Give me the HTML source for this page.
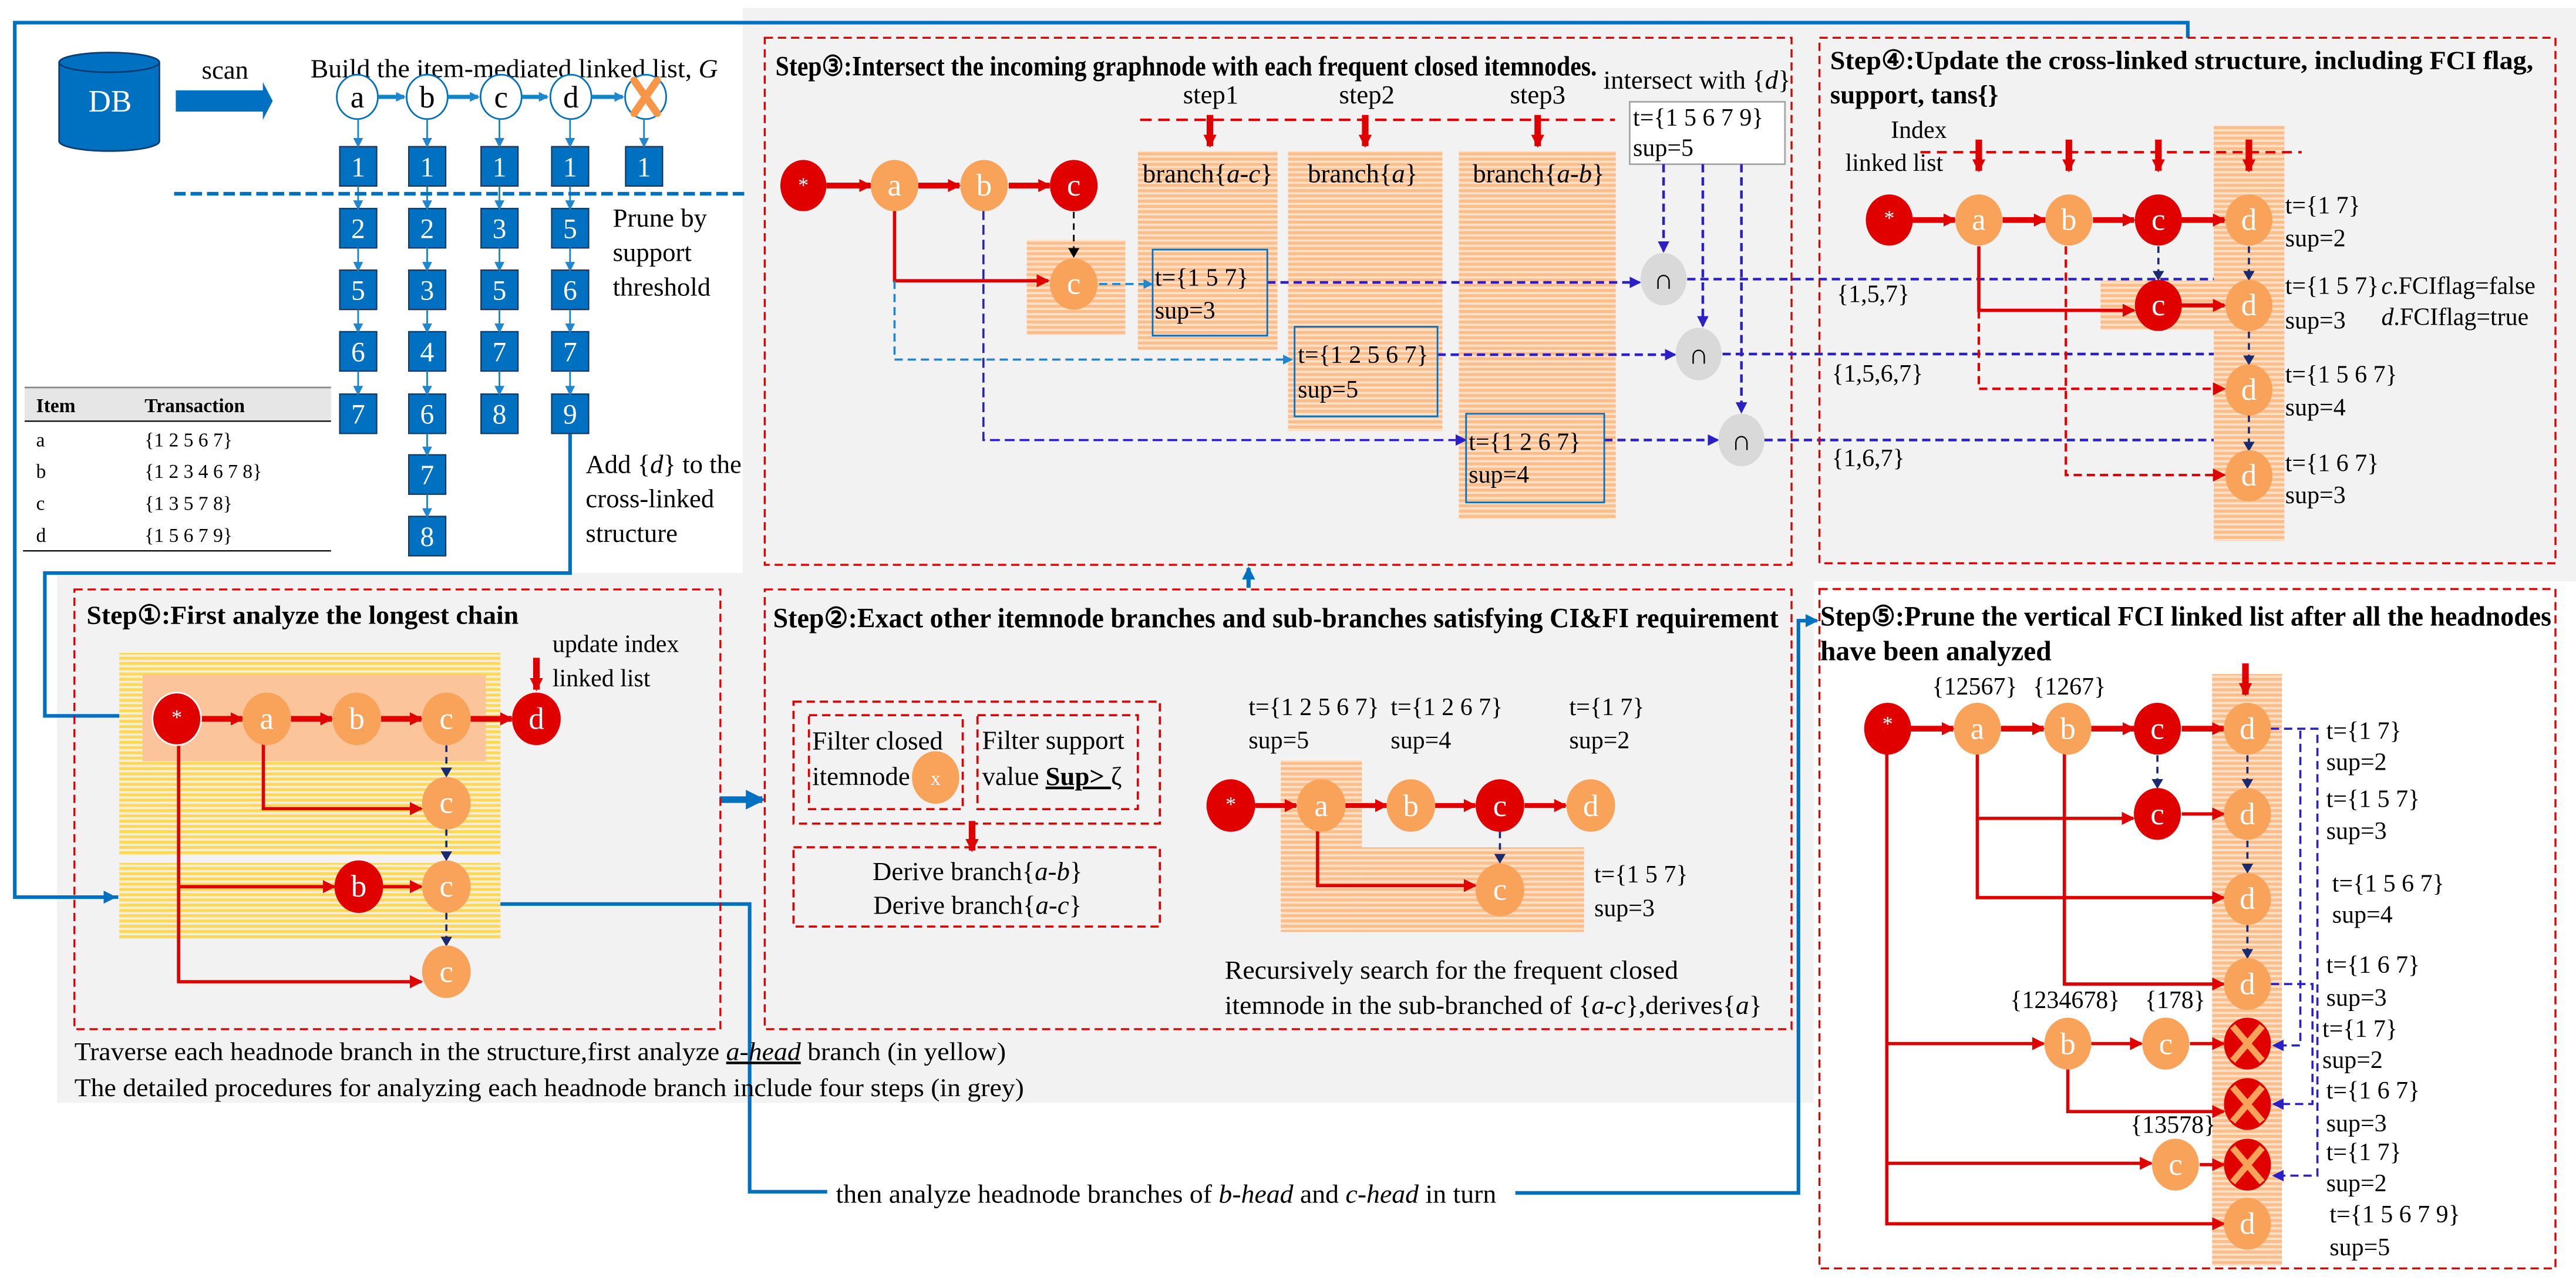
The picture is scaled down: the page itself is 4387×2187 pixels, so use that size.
<!DOCTYPE html>
<html><head><meta charset="utf-8"><style>
html,body{margin:0;padding:0;background:#fff;}
svg{display:block;}
svg text, svg tspan{font-family:"Liberation Serif","DejaVu Serif",serif;}
</style></head><body>
<svg xmlns="http://www.w3.org/2000/svg" width="4387" height="2187" viewBox="0 0 1568 782" preserveAspectRatio="none" font-family="Liberation Serif, serif">
<defs>
<pattern id="os" width="4" height="3.2" patternUnits="userSpaceOnUse"><rect width="4" height="3.2" fill="#fde0c8"/><rect width="4" height="1.8" fill="#fbbd8a"/></pattern>
<pattern id="ys" width="4" height="3.2" patternUnits="userSpaceOnUse"><rect width="4" height="3.2" fill="#f4efd8"/><rect width="4" height="1.8" fill="#ffd85a"/></pattern>
<marker id="ar" markerWidth="8" markerHeight="8" refX="7" refY="4" orient="auto" markerUnits="userSpaceOnUse"><path d="M0,0 L8,4 L0,8 z" fill="#e00000"/></marker>
<marker id="ab" markerWidth="8" markerHeight="8" refX="7" refY="4" orient="auto" markerUnits="userSpaceOnUse"><path d="M0,0 L8,4 L0,8 z" fill="#0070c0"/></marker>
<marker id="abs" markerWidth="6" markerHeight="6" refX="5" refY="3" orient="auto" markerUnits="userSpaceOnUse"><path d="M0,0 L6,3 L0,6 z" fill="#1f86d0"/></marker>
<marker id="ap" markerWidth="7" markerHeight="7" refX="6" refY="3.5" orient="auto" markerUnits="userSpaceOnUse"><path d="M0,0 L7,3.5 L0,7 z" fill="#2b1fc8"/></marker>
<marker id="an" markerWidth="6" markerHeight="7" refX="5" refY="3.5" orient="auto" markerUnits="userSpaceOnUse"><path d="M0,0 L6,3.5 L0,7 z" fill="#1a2a70"/></marker>
<marker id="ak" markerWidth="6" markerHeight="7" refX="5" refY="3.5" orient="auto" markerUnits="userSpaceOnUse"><path d="M0,0 L6,3.5 L0,7 z" fill="#000"/></marker>
<marker id="abb" markerWidth="12" markerHeight="12" refX="10" refY="6" orient="auto" markerUnits="userSpaceOnUse"><path d="M0,0 L12,6 L0,12 z" fill="#0070c0"/></marker>
</defs>

<rect x="452" y="5" width="1116" height="349" fill="#f2f2f2"/>
<rect x="34.7" y="349" width="1069.3" height="322.6" fill="#f2f2f2"/>

<path d="M72,546.4 H9 V13.8 H1331.7 V23" fill="none" stroke="#0070c0" stroke-width="2.2"/>
<path d="M9,546.4 H70" fill="none" stroke="#0070c0" stroke-width="2.2" marker-end="url(#ab)"/>
<path d="M347,264 V349 H27.3 V436 H84" fill="none" stroke="#0070c0" stroke-width="2.2" marker-end="url(#ab)"/>
<path d="M303.7,550.6 H456.3 V725.8 H503.5" fill="none" stroke="#0070c0" stroke-width="2.2"/>
<path d="M922.4,726.5 H1094.7 V378 H1106" fill="none" stroke="#0070c0" stroke-width="2.2" marker-end="url(#ab)"/>
<path d="M438,487 H464" fill="none" stroke="#0070c0" stroke-width="4" marker-end="url(#abb)"/>
<path d="M760,358 V346" fill="none" stroke="#0070c0" stroke-width="2.5" marker-end="url(#ab)"/>

<path d="M36,38 V86 A30.5,6 0 0 0 97,86 V38" fill="#0070c0" stroke="#0a3d73" stroke-width="1"/>
<ellipse cx="66.5" cy="38" rx="30.5" ry="6" fill="#0070c0" stroke="#0a3d73" stroke-width="1"/>
<text x="67" y="68" font-size="19" fill="#fff" text-anchor="middle">DB</text>
<path d="M107,55 H160 V50 L166,61.5 L160,73 V68 H107 z" fill="#0070c0"/>
<text x="137" y="48" font-size="16" text-anchor="middle">scan</text>
<text x="189" y="47" font-size="16" textLength="248" lengthAdjust="spacingAndGlyphs">Build the item-mediated linked list, <tspan font-style="italic">G</tspan></text>
<g stroke="#0070c0" stroke-width="1" fill="#fff">
<ellipse cx="217.5" cy="59" rx="12.5" ry="13.5"/><ellipse cx="260" cy="59" rx="12.5" ry="13.5"/><ellipse cx="305" cy="59" rx="12.5" ry="13.5"/><ellipse cx="347.5" cy="59" rx="12.5" ry="13.5"/><ellipse cx="393" cy="59" rx="12.5" ry="13.5"/>
</g>
<g font-size="19" text-anchor="middle"><text x="217.5" y="65.5">a</text><text x="260" y="65.5">b</text><text x="305" y="65.5">c</text><text x="347.5" y="65.5">d</text></g>
<g stroke="#f79646" stroke-width="4.5" stroke-linecap="round"><path d="M386,49 L400,69 M400,49 L386,69"/></g>
<g stroke="#0f86c8" stroke-width="2.5" fill="none" marker-end="url(#abs)">
<path d="M230,59 H246"/><path d="M272.5,59 H291"/><path d="M317.5,59 H333"/><path d="M360,59 H379"/>
</g>
<g fill="#0070c0" stroke="#17375e" stroke-width="0.8">
<rect x="206.8" y="89.3" width="22.5" height="24"/><rect x="206.8" y="127" width="22.5" height="24"/><rect x="206.8" y="164.5" width="22.5" height="24"/><rect x="206.8" y="202" width="22.5" height="24"/><rect x="206.8" y="240" width="22.5" height="24"/>
<rect x="248.8" y="89.3" width="22.5" height="24"/><rect x="248.8" y="127" width="22.5" height="24"/><rect x="248.8" y="164.5" width="22.5" height="24"/><rect x="248.8" y="202" width="22.5" height="24"/><rect x="248.8" y="240" width="22.5" height="24"/><rect x="248.8" y="277" width="22.5" height="24"/><rect x="248.8" y="314.5" width="22.5" height="24"/>
<rect x="292.8" y="89.3" width="22.5" height="24"/><rect x="292.8" y="127" width="22.5" height="24"/><rect x="292.8" y="164.5" width="22.5" height="24"/><rect x="292.8" y="202" width="22.5" height="24"/><rect x="292.8" y="240" width="22.5" height="24"/>
<rect x="335.8" y="89.3" width="22.5" height="24"/><rect x="335.8" y="127" width="22.5" height="24"/><rect x="335.8" y="164.5" width="22.5" height="24"/><rect x="335.8" y="202" width="22.5" height="24"/><rect x="335.8" y="240" width="22.5" height="24"/>
<rect x="380.8" y="89.3" width="22.5" height="24"/>
</g>
<g font-size="17" fill="#fff" text-anchor="middle">
<text x="218" y="107.5">1</text><text x="218" y="145">2</text><text x="218" y="182.5">5</text><text x="218" y="220">6</text><text x="218" y="258">7</text>
<text x="260" y="107.5">1</text><text x="260" y="145">2</text><text x="260" y="182.5">3</text><text x="260" y="220">4</text><text x="260" y="258">6</text><text x="260" y="295">7</text><text x="260" y="332.5">8</text>
<text x="304" y="107.5">1</text><text x="304" y="145">3</text><text x="304" y="182.5">5</text><text x="304" y="220">7</text><text x="304" y="258">8</text>
<text x="347" y="107.5">1</text><text x="347" y="145">5</text><text x="347" y="182.5">6</text><text x="347" y="220">7</text><text x="347" y="258">9</text>
<text x="392" y="107.5">1</text>
</g>
<g stroke="#0f86c8" stroke-width="1" fill="none" marker-end="url(#abs)">
<path d="M218,72.5 V89"/><path d="M260,72.5 V89"/><path d="M304,72.5 V89"/><path d="M347,72.5 V89"/><path d="M392,72.5 V89"/>
<path d="M218,113.3 V127"/><path d="M218,150.8 V164.5"/><path d="M218,188.5 V202"/><path d="M218,226 V240"/>
<path d="M260,113.3 V127"/><path d="M260,150.8 V164.5"/><path d="M260,188.5 V202"/><path d="M260,226 V240"/><path d="M260,264 V277"/><path d="M260,301 V314.5"/>
<path d="M304,113.3 V127"/><path d="M304,150.8 V164.5"/><path d="M304,188.5 V202"/><path d="M304,226 V240"/>
<path d="M347,113.3 V127"/><path d="M347,150.8 V164.5"/><path d="M347,188.5 V202"/><path d="M347,226 V240"/>
</g>
<path d="M106,118 H456" stroke="#0070c0" stroke-width="2.2" stroke-dasharray="7,3" fill="none"/>
<g font-size="16"><text x="373" y="138">Prune by</text><text x="373" y="159">support</text><text x="373" y="180">threshold</text>
<text x="356.5" y="288">Add {<tspan font-style="italic">d</tspan>} to the</text><text x="356.5" y="309">cross-linked</text><text x="356.5" y="330">structure</text></g>
<rect x="15" y="236" width="186.5" height="20" fill="#e6e6e6"/>
<path d="M15,236 H201.5" stroke="#888" stroke-width="1"/>
<path d="M15,256.5 H201.5 M14,335.5 H201.5" stroke="#000" stroke-width="0.8"/>
<g font-size="12"><text x="22" y="251" font-weight="bold">Item</text><text x="88" y="251" font-weight="bold">Transaction</text>
<text x="22" y="272">a</text><text x="88" y="272">{1 2 5 6 7}</text>
<text x="22" y="291">b</text><text x="88" y="291">{1 2 3 4 6 7 8}</text>
<text x="22" y="310.5">c</text><text x="88" y="310.5">{1 3 5 7 8}</text>
<text x="22" y="330">d</text><text x="88" y="330">{1 5 6 7 9}</text></g>

<rect x="465.5" y="23" width="625" height="321" fill="none" stroke="#e00000" stroke-width="1.2" stroke-dasharray="5,3"/>
<text x="472" y="46" font-size="17" font-weight="bold" textLength="500" lengthAdjust="spacingAndGlyphs">Step③:Intersect the incoming graphnode with each frequent closed itemnodes.</text>
<rect x="692.6" y="92" width="85" height="121" fill="url(#os)"/>
<rect x="784" y="92" width="94" height="170.5" fill="url(#os)"/>
<rect x="888" y="92" width="95.5" height="224" fill="url(#os)"/>
<rect x="625" y="146" width="60" height="58" fill="url(#os)"/>
<g font-size="16" text-anchor="middle"><text x="737" y="63">step1</text><text x="832" y="63">step2</text><text x="936" y="63">step3</text></g>
<path d="M694,73 H983" stroke="#e00000" stroke-width="1.5" stroke-dasharray="7,4"/>
<g stroke="#e00000" stroke-width="4" marker-end="url(#ar)"><path d="M736.5,70 V89"/><path d="M831,70 V89"/><path d="M936,70 V89"/></g>
<g font-size="16"><text x="695.5" y="111">branch{<tspan font-style="italic">a-c</tspan>}</text><text x="796" y="111">branch{<tspan font-style="italic">a</tspan>}</text><text x="896.5" y="111">branch{<tspan font-style="italic">a-b</tspan>}</text></g>
<text x="976" y="54" font-size="16">intersect with {<tspan font-style="italic">d</tspan>}</text>
<rect x="992" y="62" width="94.5" height="38" fill="#fff" stroke="#a6a6a6" stroke-width="1"/>
<g font-size="15"><text x="994" y="76.5">t={1 5 6 7 9}</text><text x="994" y="95">sup=5</text></g>
<g stroke="#e00000" stroke-width="3.5" fill="none" marker-end="url(#ar)"><path d="M503,113 H530"/><path d="M559,113 H584"/><path d="M614,113 H639"/></g>
<path d="M544.5,128 V171 H638" stroke="#e00000" stroke-width="2" fill="none" marker-end="url(#ar)"/>
<path d="M653.6,129 V156" stroke="#000" stroke-width="1" stroke-dasharray="4,3" fill="none" marker-end="url(#ak)"/>
<path d="M544.5,171 V219 H786" stroke="#1f86d0" stroke-width="1.3" stroke-dasharray="5,3" fill="none" marker-end="url(#abs)"/>
<path d="M669,173 H701" stroke="#1f86d0" stroke-width="1.3" stroke-dasharray="5,3" fill="none" marker-end="url(#abs)"/>
<path d="M598.6,128 V268 H892" stroke="#2b1fc8" stroke-width="1.3" stroke-dasharray="6,3" fill="none" marker-end="url(#ap)"/>
<g stroke="#2b1fc8" stroke-width="1.6" stroke-dasharray="5,3" fill="none" marker-end="url(#ap)">
<path d="M771.4,172 H998"/><path d="M875,216 H1019.5"/><path d="M976.5,268 H1045.5"/>
<path d="M1012.6,100 V153"/><path d="M1036.5,100 V198.5"/><path d="M1060,100 V251"/>
<path d="M1027,170 H1358 V176"/><path d="M1048.5,215.6 H1363 V224"/><path d="M1074,268 H1363 V275"/>
</g>
<rect x="701.6" y="152" width="69.8" height="52.4" fill="none" stroke="#0070c0" stroke-width="1"/>
<rect x="788" y="199" width="87" height="54.6" fill="none" stroke="#0070c0" stroke-width="1"/>
<rect x="892.4" y="252" width="84.1" height="54" fill="none" stroke="#0070c0" stroke-width="1"/>
<g font-size="15"><text x="703" y="174">t={1 5 7}</text><text x="703" y="194">sup=3</text>
<text x="790" y="221">t={1 2 5 6 7}</text><text x="790" y="242">sup=5</text>
<text x="894" y="274">t={1 2 6 7}</text><text x="894" y="294">sup=4</text></g>
<ellipse cx="489" cy="113" rx="14" ry="15.6" fill="#e00000"/>
<ellipse cx="544.5" cy="113" rx="14.5" ry="15.6" fill="#f9a35a"/>
<ellipse cx="599" cy="113" rx="14.5" ry="15.6" fill="#f9a35a"/>
<ellipse cx="653.6" cy="113" rx="14.5" ry="15.6" fill="#e00000"/>
<ellipse cx="653.6" cy="173" rx="14.5" ry="15.6" fill="#f9a35a"/>
<g font-size="19" fill="#fff" text-anchor="middle"><text x="489" y="117" font-size="13">*</text><text x="544.5" y="119">a</text><text x="599" y="119">b</text><text x="653.6" y="119">c</text><text x="653.6" y="179">c</text></g>
<g fill="#d9d9d9"><ellipse cx="1012.6" cy="170" rx="14" ry="16"/><ellipse cx="1034" cy="215.6" rx="14" ry="16"/><ellipse cx="1060" cy="268" rx="14" ry="16"/></g>
<g font-size="17" text-anchor="middle"><text x="1012.6" y="176">∩</text><text x="1034" y="221.6">∩</text><text x="1060" y="274">∩</text></g>

<rect x="1107.5" y="23" width="448" height="320" fill="none" stroke="#e00000" stroke-width="1.2" stroke-dasharray="5,3"/>
<text x="1114" y="42" font-size="16" font-weight="bold" textLength="428" lengthAdjust="spacingAndGlyphs">Step④:Update the cross-linked structure, including FCI flag,</text>
<text x="1114" y="63" font-size="16" font-weight="bold">support, tans{}</text>
<g font-size="15" text-anchor="middle"><text x="1168" y="84">Index</text><text x="1153" y="104">linked list</text></g>
<rect x="1347.5" y="76.6" width="43" height="253" fill="url(#os)"/>
<rect x="1278.6" y="171" width="69.4" height="30" fill="url(#os)"/>
<path d="M1169,92.7 H1401" stroke="#e00000" stroke-width="1.5" stroke-dasharray="6,4"/>
<g stroke="#e00000" stroke-width="4" marker-end="url(#ar)"><path d="M1204.5,85 V104"/><path d="M1259.3,85 V104"/><path d="M1313.8,85 V104"/><path d="M1368.9,85 V104"/></g>
<g stroke="#e00000" stroke-width="3.5" fill="none" marker-end="url(#ar)"><path d="M1164,134 H1190"/><path d="M1219,134 H1245"/><path d="M1274,134 H1299"/><path d="M1328,134 H1354"/><path d="M1328,186 H1354" stroke-width="2.5"/></g>
<path d="M1204.5,150 V189 H1299" stroke="#e00000" stroke-width="2" fill="none" marker-end="url(#ar)"/>
<path d="M1204.5,189 V236.8 H1354" stroke="#e00000" stroke-width="1.5" stroke-dasharray="5,3" fill="none" marker-end="url(#ar)"/>
<path d="M1257.5,150 V289.3 H1354" stroke="#e00000" stroke-width="1.5" stroke-dasharray="5,3" fill="none" marker-end="url(#ar)"/>
<g stroke="#1a2a70" stroke-width="1.3" stroke-dasharray="4,3" fill="none" marker-end="url(#an)"><path d="M1313.8,150 V170"/><path d="M1368.9,150 V170"/><path d="M1368.9,202 V221.5"/><path d="M1368.9,253 V274"/></g>
<ellipse cx="1150" cy="134" rx="14.3" ry="15.6" fill="#e00000"/>
<ellipse cx="1204.5" cy="134" rx="14.3" ry="15.6" fill="#f9a35a"/>
<ellipse cx="1259.3" cy="134" rx="14.3" ry="15.6" fill="#f9a35a"/>
<ellipse cx="1313.8" cy="134" rx="14.3" ry="15.6" fill="#e00000"/>
<ellipse cx="1313.8" cy="186" rx="14.3" ry="15.6" fill="#e00000"/>
<ellipse cx="1368.9" cy="134" rx="14.3" ry="15.6" fill="#f9a35a"/>
<ellipse cx="1368.9" cy="186" rx="14.3" ry="15.6" fill="#f9a35a"/>
<ellipse cx="1368.9" cy="237.5" rx="14.3" ry="15.6" fill="#f9a35a"/>
<ellipse cx="1368.9" cy="289.7" rx="14.3" ry="15.6" fill="#f9a35a"/>
<g font-size="19" fill="#fff" text-anchor="middle"><text x="1150" y="137" font-size="13">*</text><text x="1204.5" y="140">a</text><text x="1259.3" y="140">b</text><text x="1313.8" y="140">c</text><text x="1313.8" y="192">c</text><text x="1368.9" y="140">d</text><text x="1368.9" y="192">d</text><text x="1368.9" y="243.5">d</text><text x="1368.9" y="295.7">d</text></g>
<g font-size="15"><text x="1391" y="130">t={1 7}</text><text x="1391" y="150">sup=2</text>
<text x="1391" y="179">t={1 5 7}</text><text x="1391" y="200">sup=3</text>
<text x="1449.5" y="179"><tspan font-style="italic">c</tspan>.FCIflag=false</text><text x="1449.5" y="198"><tspan font-style="italic">d</tspan>.FCIflag=true</text>
<text x="1391" y="233">t={1 5 6 7}</text><text x="1391" y="253">sup=4</text>
<text x="1391" y="287">t={1 6 7}</text><text x="1391" y="306.5">sup=3</text>
<text x="1118" y="184">{1,5,7}</text><text x="1115" y="232.5">{1,5,6,7}</text><text x="1115" y="284">{1,6,7}</text></g>

<rect x="45.3" y="359" width="393.2" height="267.8" fill="none" stroke="#e00000" stroke-width="1.2" stroke-dasharray="5,3"/>
<text x="52.7" y="380" font-size="16" font-weight="bold" textLength="263" lengthAdjust="spacingAndGlyphs">Step①:First analyze the longest chain</text>
<rect x="72.6" y="397.6" width="232" height="123.3" fill="url(#ys)"/>
<rect x="72.6" y="525.5" width="232" height="46.3" fill="url(#ys)"/>
<rect x="86.8" y="410.8" width="208.9" height="52.8" fill="#fcc49a"/>
<g font-size="15"><text x="336.3" y="397">update index</text><text x="336.3" y="418">linked list</text></g>
<path d="M326.5,400.6 V420" stroke="#e00000" stroke-width="4" marker-end="url(#ar)"/>
<g stroke="#e00000" stroke-width="3.5" fill="none" marker-end="url(#ar)"><path d="M122,437.8 H147.5"/><path d="M177,437.8 H202"/><path d="M232,437.8 H256.5"/><path d="M286.5,437.8 H311.5"/></g>
<path d="M160.3,453 V492.5 H256.5" stroke="#e00000" stroke-width="2" fill="none" marker-end="url(#ar)"/>
<path d="M108.7,454 V597.9 H256.5" stroke="#e00000" stroke-width="2" fill="none" marker-end="url(#ar)"/>
<path d="M108.7,540 H203.5" stroke="#e00000" stroke-width="2" fill="none" marker-end="url(#ar)"/>
<path d="M233,540 H256.5" stroke="#e00000" stroke-width="2" fill="none" marker-end="url(#ar)"/>
<g stroke="#1a2a70" stroke-width="1.3" stroke-dasharray="4,3" fill="none" marker-end="url(#an)"><path d="M271.7,454 V472.5"/><path d="M271.7,505 V523.5"/><path d="M271.7,556 V575.5"/></g>
<ellipse cx="107.6" cy="437.8" rx="14.8" ry="16" fill="#e00000" stroke="#fff" stroke-width="1"/>
<ellipse cx="162.4" cy="437.8" rx="14.8" ry="16" fill="#f9a35a"/>
<ellipse cx="217.2" cy="437.8" rx="14.8" ry="16" fill="#f9a35a"/>
<ellipse cx="271.7" cy="437.8" rx="14.8" ry="16" fill="#f9a35a"/>
<ellipse cx="326.5" cy="437.8" rx="14.8" ry="16" fill="#e00000"/>
<ellipse cx="271.7" cy="489.2" rx="14.8" ry="16" fill="#f9a35a"/>
<ellipse cx="271.7" cy="540" rx="14.8" ry="16" fill="#f9a35a"/>
<ellipse cx="218.4" cy="540" rx="14.8" ry="16" fill="#e00000"/>
<ellipse cx="271.7" cy="591.8" rx="14.8" ry="16" fill="#f9a35a"/>
<g font-size="19" fill="#fff" text-anchor="middle"><text x="107.6" y="441" font-size="13">*</text><text x="162.4" y="444">a</text><text x="217.2" y="444">b</text><text x="271.7" y="444">c</text><text x="326.5" y="444">d</text><text x="271.7" y="495">c</text><text x="271.7" y="546">c</text><text x="218.4" y="546">b</text><text x="271.7" y="598">c</text></g>
<g font-size="15.5"><text x="45.3" y="645.5" textLength="567" lengthAdjust="spacingAndGlyphs">Traverse each headnode branch in the structure,first analyze <tspan font-style="italic" text-decoration="underline">a-head</tspan> branch (in yellow)</text>
<text x="45.3" y="667.5" textLength="578" lengthAdjust="spacingAndGlyphs">The detailed procedures for analyzing each headnode branch include four steps (in grey)</text></g>

<rect x="465.5" y="359" width="625" height="267.8" fill="none" stroke="#e00000" stroke-width="1.2" stroke-dasharray="5,3"/>
<text x="470.6" y="382" font-size="17" font-weight="bold" textLength="612" lengthAdjust="spacingAndGlyphs">Step②:Exact other itemnode branches and sub-branches satisfying CI&amp;FI requirement</text>
<g fill="none" stroke="#e00000" stroke-width="1.3" stroke-dasharray="5,3">
<rect x="483" y="427.3" width="223" height="74.3"/><rect x="492.4" y="435.6" width="93.6" height="57.2"/><rect x="595" y="435.6" width="97.6" height="57.2"/><rect x="483" y="516" width="223" height="48.3"/></g>
<ellipse cx="569.5" cy="473.5" rx="14.4" ry="16" fill="#f9a35a"/>
<text x="569.5" y="478" font-size="12" fill="#fff" text-anchor="middle">x</text>
<g font-size="16"><text x="494.4" y="456.5">Filter closed</text><text x="494.4" y="478">itemnode</text>
<text x="597.8" y="456">Filter support</text><text x="597.8" y="478">value <tspan font-weight="bold" text-decoration="underline">Sup&gt; </tspan> ζ</text>
<text x="595" y="536" text-anchor="middle">Derive branch{<tspan font-style="italic">a-b</tspan>}</text><text x="595" y="556.5" text-anchor="middle">Derive branch{<tspan font-style="italic">a-c</tspan>}</text></g>
<path d="M591.7,500 V518" stroke="#e00000" stroke-width="4" marker-end="url(#ar)"/>
<rect x="779.6" y="463" width="49.4" height="104.6" fill="url(#os)"/>
<rect x="829" y="516" width="135.2" height="51.6" fill="url(#os)"/>
<g font-size="15"><text x="760" y="435.6">t={1 2 5 6 7}</text><text x="760" y="455.7">sup=5</text>
<text x="846.5" y="435.6">t={1 2 6 7}</text><text x="846.5" y="455.7">sup=4</text>
<text x="955.2" y="435.6">t={1 7}</text><text x="955.2" y="455.7">sup=2</text>
<text x="970.4" y="537.4">t={1 5 7}</text><text x="970.4" y="558">sup=3</text></g>
<g stroke="#e00000" stroke-width="3" fill="none" marker-end="url(#ar)"><path d="M764,490.6 H789"/><path d="M819,490.6 H844"/><path d="M873.6,490.6 H898"/><path d="M928,490.6 H953"/></g>
<path d="M802,506 V539.3 H898" stroke="#e00000" stroke-width="2" fill="none" marker-end="url(#ar)"/>
<path d="M913,506.5 V525" stroke="#1a2a70" stroke-width="1.3" stroke-dasharray="4,3" fill="none" marker-end="url(#an)"/>
<ellipse cx="749.2" cy="490.6" rx="14.8" ry="16" fill="#e00000"/>
<ellipse cx="804.2" cy="490.6" rx="14.8" ry="16" fill="#f9a35a"/>
<ellipse cx="858.8" cy="490.6" rx="14.8" ry="16" fill="#f9a35a"/>
<ellipse cx="913" cy="490.6" rx="14.8" ry="16" fill="#e00000"/>
<ellipse cx="968.3" cy="490.6" rx="14.8" ry="16" fill="#f9a35a"/>
<ellipse cx="913" cy="542" rx="14.8" ry="16" fill="#f9a35a"/>
<g font-size="19" fill="#fff" text-anchor="middle"><text x="749.2" y="494" font-size="13">*</text><text x="804.2" y="497">a</text><text x="858.8" y="497">b</text><text x="913" y="497">c</text><text x="968.3" y="497">d</text><text x="913" y="548">c</text></g>
<g font-size="16"><text x="745.5" y="596" textLength="276" lengthAdjust="spacingAndGlyphs">Recursively search for the frequent closed</text>
<text x="745.5" y="617.5" textLength="327" lengthAdjust="spacingAndGlyphs">itemnode in the sub-branched of {<tspan font-style="italic">a-c</tspan>},derives{<tspan font-style="italic">a</tspan>}</text></g>
<text x="508.8" y="732.5" font-size="16" textLength="402" lengthAdjust="spacingAndGlyphs">then analyze headnode branches of <tspan font-style="italic">b-head</tspan> and <tspan font-style="italic">c-head</tspan> in turn</text>

<rect x="1107.5" y="358.7" width="448" height="413.8" fill="none" stroke="#e00000" stroke-width="1.2" stroke-dasharray="5,3"/>
<text x="1108" y="381" font-size="17" font-weight="bold" textLength="445" lengthAdjust="spacingAndGlyphs">Step⑤:Prune the vertical FCI linked list after all the headnodes</text>
<text x="1108" y="402" font-size="17" font-weight="bold">have been analyzed</text>
<rect x="1346.5" y="410.5" width="42.5" height="360.5" fill="url(#os)"/>
<g font-size="15" text-anchor="middle"><text x="1202" y="423">{12567}</text><text x="1259.6" y="423">{1267}</text><text x="1257" y="614">{1234678}</text><text x="1324" y="614">{178}</text><text x="1322.7" y="690">{13578}</text></g>
<path d="M1366.8,404 V423" stroke="#e00000" stroke-width="4" marker-end="url(#ar)"/>
<g stroke="#e00000" stroke-width="3.5" fill="none" marker-end="url(#ar)"><path d="M1163,443.8 H1189"/><path d="M1218,443.8 H1244"/><path d="M1273,443.8 H1299"/><path d="M1328,443.8 H1353.5"/></g>
<g stroke="#e00000" stroke-width="2" fill="none" marker-end="url(#ar)">
<path d="M1328,495.7 H1353.5"/>
<path d="M1203.6,459 V546.7 H1353.5"/>
<path d="M1203.6,498.4 H1298.5"/>
<path d="M1256.6,459 V599.3 H1353.5"/>
<path d="M1148.5,459 V745.3 H1353.5"/>
<path d="M1148.5,635.6 H1244"/>
<path d="M1148.5,708.5 H1309.5"/>
<path d="M1273,635.6 H1303.5"/>
<path d="M1333,635.6 H1353.5"/>
<path d="M1258.7,651 V677 H1353.5"/>
<path d="M1339,709.3 H1353.5"/>
</g>
<g stroke="#1a2a70" stroke-width="1.3" stroke-dasharray="4,3" fill="none" marker-end="url(#an)"><path d="M1313.2,460 V479.5"/><path d="M1368,460 V479.5"/><path d="M1368,512 V531"/><path d="M1368,563.5 V583"/></g>
<g stroke="#2b1fc8" stroke-width="1.3" stroke-dasharray="5,3" fill="none">
<path d="M1382.3,443.8 H1410.6 V716 H1384" marker-end="url(#ap)"/>
<path d="M1400.2,445 V636.7 H1384" marker-end="url(#ap)"/>
<path d="M1382.3,599.3 H1407.6 V672.4 H1384" marker-end="url(#ap)"/>
</g>
<g fill="#f9a35a">
<ellipse cx="1203.6" cy="443.8" rx="14.3" ry="15.8"/><ellipse cx="1258.7" cy="443.8" rx="14.3" ry="15.8"/>
<ellipse cx="1368" cy="443.8" rx="14.3" ry="15.8"/><ellipse cx="1368" cy="495.7" rx="14.3" ry="15.8"/><ellipse cx="1368" cy="547.5" rx="14.3" ry="15.8"/><ellipse cx="1368" cy="599.3" rx="14.3" ry="15.8"/><ellipse cx="1368" cy="745.3" rx="14.3" ry="15.8"/>
<ellipse cx="1258.7" cy="635.6" rx="14.3" ry="15.8"/><ellipse cx="1318.3" cy="635.6" rx="14.3" ry="15.8"/><ellipse cx="1324.2" cy="709.3" rx="14.3" ry="15.8"/>
</g>
<g fill="#e00000"><ellipse cx="1149" cy="443.8" rx="14.3" ry="15.8"/><ellipse cx="1313.2" cy="443.8" rx="14.3" ry="15.8"/><ellipse cx="1313.2" cy="495.7" rx="14.3" ry="15.8"/>
<ellipse cx="1368" cy="635.6" rx="14.3" ry="15.8"/><ellipse cx="1368" cy="672.4" rx="14.3" ry="15.8"/><ellipse cx="1368" cy="709.3" rx="14.3" ry="15.8"/></g>
<g stroke="#f9a35a" stroke-width="4"><path d="M1359,625 L1377,646 M1377,625 L1359,646"/><path d="M1359,662 L1377,683 M1377,662 L1359,683"/><path d="M1359,699 L1377,720 M1377,699 L1359,720"/></g>
<g font-size="19" fill="#fff" text-anchor="middle"><text x="1149" y="445" font-size="13">*</text><text x="1203.6" y="450">a</text><text x="1258.7" y="450">b</text><text x="1313.2" y="450">c</text><text x="1313.2" y="502">c</text><text x="1368" y="450">d</text><text x="1368" y="502">d</text><text x="1368" y="553.5">d</text><text x="1368" y="605.5">d</text><text x="1368" y="751.5">d</text><text x="1258.7" y="642">b</text><text x="1318.3" y="642">c</text><text x="1324.2" y="715.5">c</text></g>
<g font-size="15"><text x="1416" y="450">t={1 7}</text><text x="1416" y="469">sup=2</text>
<text x="1416" y="491.5">t={1 5 7}</text><text x="1416" y="511">sup=3</text>
<text x="1419.6" y="543">t={1 5 6 7}</text><text x="1419.6" y="562">sup=4</text>
<text x="1416" y="592.5">t={1 6 7}</text><text x="1416" y="612.5">sup=3</text>
<text x="1413.6" y="631.5">t={1 7}</text><text x="1413.6" y="650.5">sup=2</text>
<text x="1416" y="669">t={1 6 7}</text><text x="1416" y="689">sup=3</text>
<text x="1416" y="706.5">t={1 7}</text><text x="1416" y="725.5">sup=2</text>
<text x="1418" y="744.5">t={1 5 6 7 9}</text><text x="1418" y="764.5">sup=5</text></g>
</svg>
</body></html>
